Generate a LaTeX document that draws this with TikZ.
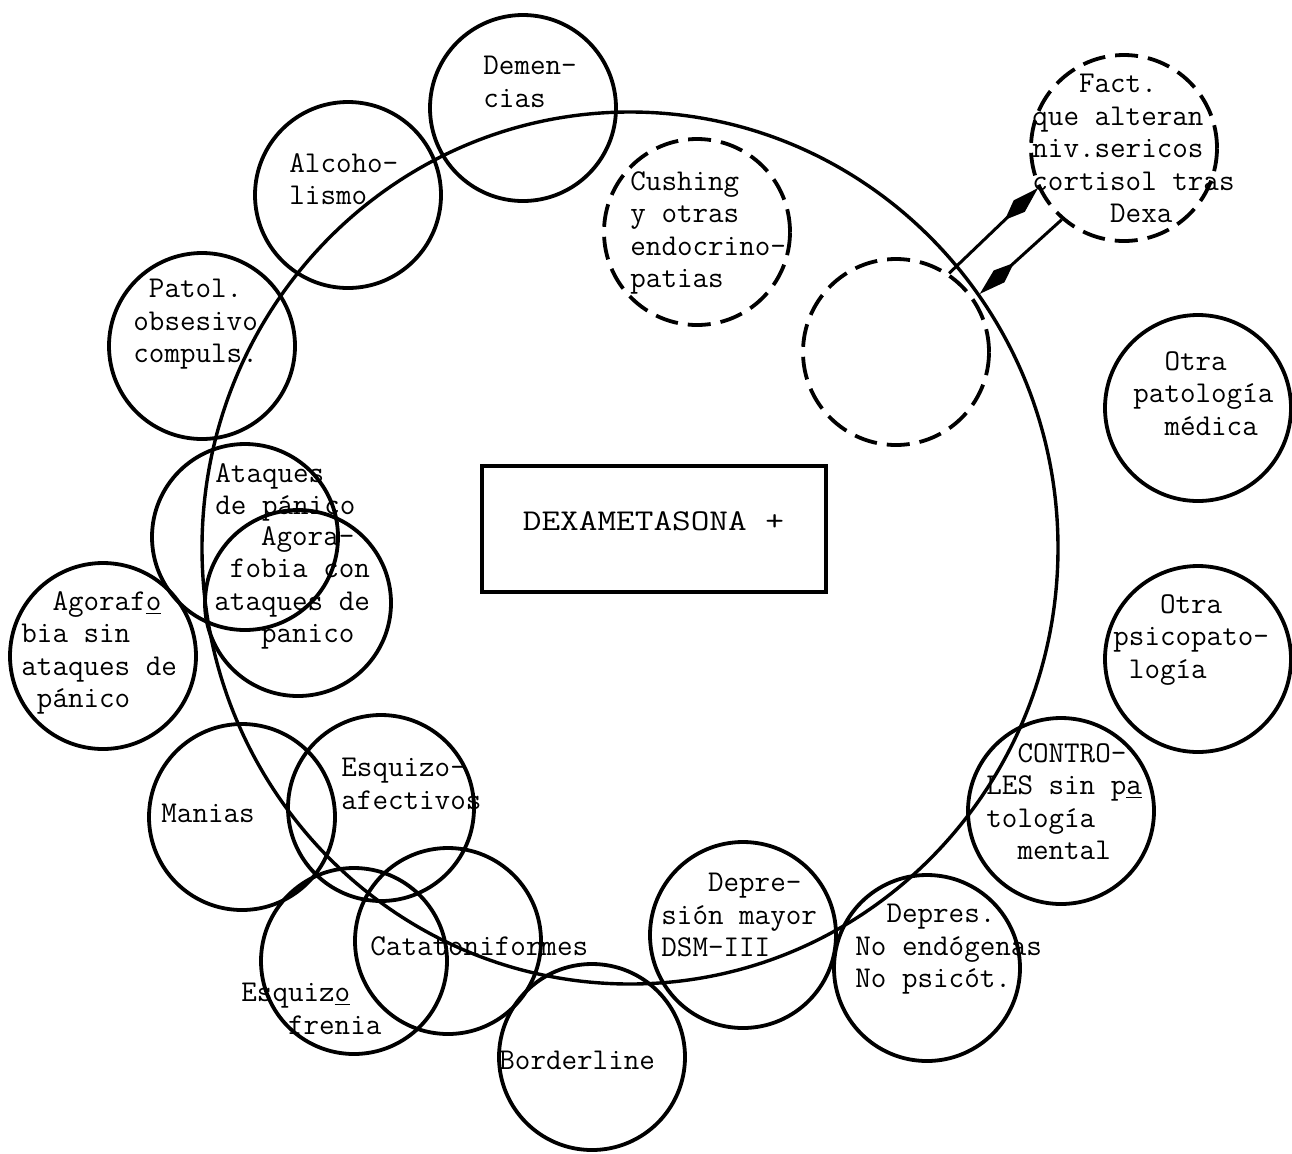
\documentclass[tikz,border=0pt]{standalone}
\usepackage{graphicx}
\usepackage{tikz}
\usetikzlibrary{positioning,arrows.meta,shapes.geometric}

\newcommand{\indch}[1]{\hspace*{#1\fontcharwd\font`x}}

\begin{document}
\begin{tikzpicture}[
        x=0.5pt, y=-0.5pt,
        bubble/.style = {circle, draw, line width=1.9pt, minimum size=93pt, inner sep=0pt},
        dashbubble/.style = {bubble, dash pattern=on 11.5pt off 5pt},
        txt/.style = {anchor=north west, align=left, inner sep=0pt, font=\fontsize{15.1}{16.25}\selectfont\ttfamily},
        line/.style = {draw, line width=1.5pt, -{Kite[length=23pt, width=8pt, inset=10pt]}}
    ]
    \useasboundingbox (0,0) rectangle (1292,1153);

    % big circle and central box
    \node [draw, ellipse, line width=1.7pt, minimum width=428pt, minimum height=436pt, inner sep=0pt] (outer) at (630,548) {};
    \node [draw, line width=2pt, minimum width=172pt, minimum height=63pt, inner sep=0pt, text height=10pt, text depth=9pt,
           font=\fontsize{15.1}{16.25}\selectfont\ttfamily] (dexa) at (653.5,529) {\scalebox{1.2}[1]{DEXAMETASONA +}};

    % circles
    \node [bubble] (dem) at (523,108) {};
    \node [bubble] (alc) at (348,195) {};
    \node [bubble] (toc) at (202,346) {};
    \node [dashbubble] (cush) at (697,232) {};
    \node [dashbubble] (fact) at (1124,148) {};
    \node [dashbubble] (hid) at (896,352) {};
    \node [bubble] (opm) at (1198,408) {};
    \node [bubble] (ops) at (1198,659) {};
    \node [bubble] (ctrl) at (1061,811) {};
    \node [bubble] (dnoend) at (927,968) {};
    \node [bubble] (dmay) at (743,935) {};
    \node [bubble] (bord) at (592,1057) {};
    \node [bubble] (catat) at (448,941) {};
    \node [bubble] (esqfr) at (354,961) {};
    \node [bubble] (man) at (242,817) {};
    \node [bubble] (esqaf) at (381,808) {};
    \node [bubble] (agsin) at (103,656) {};
    \node [bubble] (agcon) at (298,603) {};
    \node [bubble] (panic) at (245,537) {};

    % texts
    \node [txt] (demtxt) at (483,56) {Demen-\\cias};
    \node [txt] (alctxt) at (289,153) {Alcoho-\\lismo};
    \node [txt] (toctxt) at (133,279) {\indch{1}Patol.\\obsesivo\\compuls.};
    \node [txt] (cushtxt) at (630,171) {Cushing\\y otras\\endocrino-\\patias};
    \node [txt] (facttxt) at (1032,74) {\indch{3}Fact.\\que alteran\\niv.sericos\\cortisol tras\\\indch{5}Dexa};
    \node [txt] (opmtxt) at (1133,351) {\indch{2}Otra\\patología\\\indch{2}médica};
    \node [txt] (opstxt) at (1113,594) {\indch{3}Otra\\psicopato-\\\indch{1}logía};
    \node [txt] (ctrltxt) at (986,743) {\indch{2}CONTRO-\\LES sin p\underline{a}\\tología\\\indch{2}mental};
    \node [txt] (dnoendtxt) at (855,904) {\indch{2}Depres.\\No endógenas\\No psicót.};
    \node [txt] (dmaytxt) at (661,873) {\indch{3}Depre-\\sión mayor\\DSM-III};
    \node [txt] (bordtxt) at (499,1051) {Borderline};
    \node [txt] (catattxt) at (370,936) {Catatoniformes};
    \node [txt] (esqfrtxt) at (241,983) {Esquiz\underline{o}\\\indch{3}frenia};
    \node [txt] (mantxt) at (161,804) {Manias};
    \node [txt] (esqaftxt) at (341,758) {Esquizo-\\afectivos};
    \node [txt] (agsintxt) at (21,591) {\indch{2}Agoraf\underline{o}\\bia sin\\ataques de\\\indch{1}pánico};
    \node [txt] (agcontxt) at (214,526) {\indch{3}Agora-\\\indch{1}fobia con\\ataques de\\\indch{3}panico};
    \node [txt] (panictxt) at (215,463) {Ataques\\de pánico};

    % arrows
    \path [line] (hid.56) -- (fact.205);
    \path [line] (fact.229) -- (outer.36);

\end{tikzpicture}
\end{document}
